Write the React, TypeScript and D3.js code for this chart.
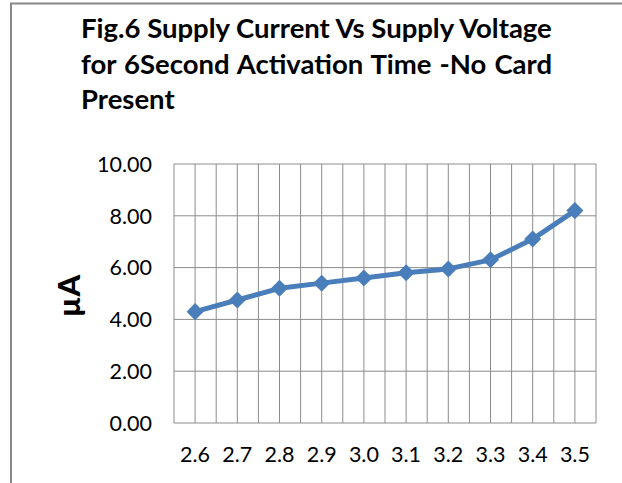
import React, { useEffect, useRef } from 'react';
import * as d3 from 'd3';

const voltages = ['2.6', '2.7', '2.8', '2.9', '3.0', '3.1', '3.2', '3.3', '3.4', '3.5'];
const currents = [4.3, 4.75, 5.2, 5.4, 5.6, 5.8, 5.95, 6.3, 7.1, 8.2];
const yTicks = [0, 2, 4, 6, 8, 10];
const titleLines = [
  'Fig.6 Supply Current Vs Supply Voltage',
  'for 6Second Activation Time -No Card',
  'Present',
];

const W = 622;
const H = 483;
const plot = { left: 174, right: 596, top: 164, bottom: 423 };
const blue = '#4A7EBB';
const gridColor = '#8c8c8c';
const font = 'Lato, "Open Sans", sans-serif';

const App = () => {
  const ref = useRef(null);

  useEffect(() => {
    const svg = d3.select(ref.current);
    svg.selectAll('*').remove();

    // outer frame
    svg.append('rect')
      .attr('x', 11).attr('y', 3.5)
      .attr('width', W).attr('height', H)
      .attr('fill', '#fff')
      .attr('stroke', '#878787')
      .attr('stroke-width', 2);

    // title: size fitted to first line, second line justified
    const titleLeft = 81;
    const titleRight = 552;
    const probe = svg.append('text')
      .attr('font-family', font).attr('font-weight', 'bold').attr('font-size', 20)
      .text(titleLines[0]);
    const probeLen = (probe.node() as SVGTextElement).getComputedTextLength();
    probe.remove();
    const titleSize = 20 * (titleRight - titleLeft) / probeLen;

    titleLines.forEach((line, i) => {
      const t = svg.append('text')
        .attr('x', titleLeft)
        .attr('y', 38 + i * 35.5)
        .attr('font-family', font)
        .attr('font-weight', 'bold')
        .attr('font-size', titleSize)
        .attr('fill', '#000')
        .text(line);
      if (i === 1) {
        const len = (t.node() as SVGTextElement).getComputedTextLength();
        const spaces = line.split(' ').length - 1;
        t.attr('word-spacing', (titleRight - titleLeft - len) / spaces);
      }
    });

    const x = d3.scaleBand().domain(voltages).range([plot.left, plot.right]).padding(0);
    const y = d3.scaleLinear().domain([0, 10]).range([plot.bottom, plot.top]);

    const g = svg.append('g');

    // vertical gridlines at band edges and centres
    const vLines: number[] = [];
    voltages.forEach(v => {
      vLines.push(x(v)!);
      vLines.push(x(v)! + x.bandwidth() / 2);
    });
    vLines.push(plot.right);
    g.selectAll('line.v').data(vLines).enter().append('line')
      .attr('x1', d => d).attr('x2', d => d)
      .attr('y1', plot.top).attr('y2', plot.bottom)
      .attr('stroke', gridColor).attr('stroke-width', 1);

    g.selectAll('line.h').data(yTicks).enter().append('line')
      .attr('x1', plot.left).attr('x2', plot.right)
      .attr('y1', d => y(d)).attr('y2', d => y(d))
      .attr('stroke', gridColor).attr('stroke-width', 1);

    // y tick labels
    g.selectAll('text.yt').data(yTicks).enter().append('text')
      .attr('x', 152)
      .attr('y', d => y(d))
      .attr('dy', '0.36em')
      .attr('text-anchor', 'end')
      .attr('font-family', font)
      .attr('font-size', 21.5)
      .text(d => d.toFixed(2));

    // x tick labels
    g.selectAll('text.xt').data(voltages).enter().append('text')
      .attr('x', d => x(d)! + x.bandwidth() / 2)
      .attr('y', 462)
      .attr('text-anchor', 'middle')
      .attr('font-family', font)
      .attr('font-size', 21.5)
      .text(d => d);

    // y axis title
    svg.append('text')
      .attr('transform', 'translate(80,296) rotate(-90)')
      .attr('text-anchor', 'middle')
      .attr('font-family', font)
      .attr('font-weight', 900)
      .attr('font-size', 31)
      .text('µA');

    const line = d3.line<number>()
      .x((d, i) => x(voltages[i])! + x.bandwidth() / 2)
      .y(d => y(d));

    g.append('path')
      .datum(currents)
      .attr('fill', 'none')
      .attr('stroke', blue)
      .attr('stroke-width', 5)
      .attr('stroke-linejoin', 'round')
      .attr('d', line);

    const diamond = d3.symbol().type(d3.symbolSquare).size(145);
    g.selectAll('path.pt').data(currents).enter().append('path')
      .attr('d', diamond)
      .attr('transform', (d, i) => `translate(${x(voltages[i])! + x.bandwidth() / 2},${y(d)}) rotate(45)`)
      .attr('fill', blue);
  }, []);

  return (
    <svg ref={ref} width={W} height={H}
      style={{ position: 'absolute', left: 0, top: 0, background: '#fff' }} />
  );
};

export default App;
